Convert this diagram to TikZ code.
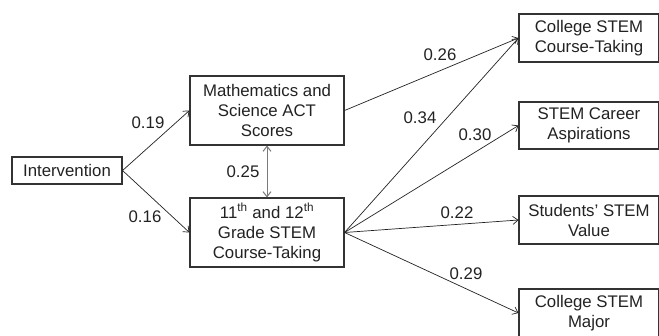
\documentclass[tikz,border=0pt]{standalone}
\usepackage{fontspec}
\setmainfont{Liberation Sans}
\usetikzlibrary{arrows.meta}
\definecolor{ink}{HTML}{222222}
\definecolor{boxline}{HTML}{333333}
\definecolor{corr}{HTML}{7A7A7A}
\begin{document}
\begin{tikzpicture}[x=1bp,y=-1bp,
  every node/.style={font=\fontsize{16.8bp}{20bp}\selectfont, text=ink},
  box/.style={draw=boxline, line width=1.1bp, align=center, inner sep=0pt, anchor=center},
  path/.style={draw=ink, line width=0.7bp, -{Straight Barb[length=5bp,width=8bp]}},
  lbl/.style={inner sep=0pt, anchor=center}]
\useasboundingbox (0,0) rectangle (659,335);
\node[box, minimum width=110bp, minimum height=27bp] (int) at (67,170.5) {Intervention};
\node[box, minimum width=154bp, minimum height=69bp] (math) at (267,110.5) {Mathematics and\\Science ACT\\Scores};
\node[box, minimum width=154bp, minimum height=69bp] (grade) at (267,232.5) {11\textsuperscript{th} and 12\textsuperscript{th}\\Grade STEM\\Course-Taking};
\node[box, minimum width=140bp, minimum height=48bp] (c1) at (589,38) {College STEM\\Course-Taking};
\node[box, minimum width=140bp, minimum height=47bp] (c2) at (589,125.5) {STEM Career\\Aspirations};
\node[box, minimum width=140bp, minimum height=48bp] (c3) at (589,220) {Students' STEM\\Value};
\node[box, minimum width=140bp, minimum height=48bp] (c4) at (589,313) {College STEM\\Major};
\draw[path] (int.east) -- (math.west);
\draw[path] (int.east) -- (grade.west);
\draw[draw=corr, line width=1bp, {Straight Barb[length=5bp,width=8bp]}-{Straight Barb[length=5bp,width=8bp]}] (math.south) -- (grade.north);
\draw[path] (math.east) -- (c1.west);
\draw[path] (grade.east) -- (c1.west);
\draw[path] (grade.east) -- (c2.west);
\draw[path] (grade.east) -- (c3.west);
\draw[path] (grade.east) -- (c4.west);
\node[lbl] (l19) at (148,123) {0.19};
\node[lbl] (l16) at (145,217) {0.16};
\node[lbl] (l25) at (243,172) {0.25};
\node[lbl] (l26) at (440,55) {0.26};
\node[lbl] (l34) at (420,118) {0.34};
\node[lbl] (l30) at (475,135) {0.30};
\node[lbl] (l22) at (457,213) {0.22};
\node[lbl] (l29) at (466,274) {0.29};
\end{tikzpicture}
\end{document}
